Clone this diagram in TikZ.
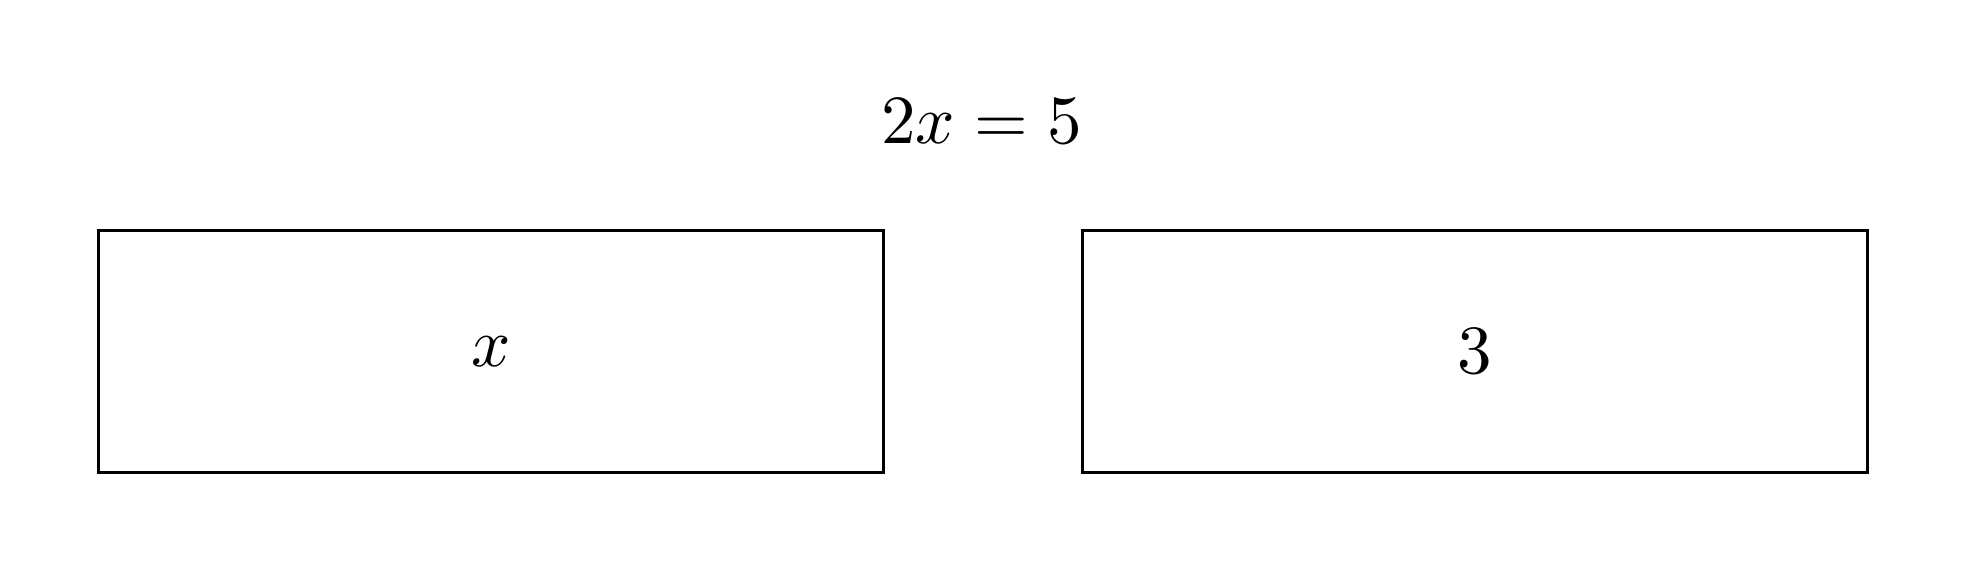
\documentclass[tikz,border=0pt]{standalone}
\usetikzlibrary{positioning}
\tikzset{valbox/.style={draw,minimum width=4cm,minimum height=1.23cm,inner sep=0pt}}
\begin{document}
\begin{tikzpicture}[scale=1.0]
\useasboundingbox (0,0) rectangle (10.03,2.91);
\node (eqn) at (5.0,2.29) {$2x = 5$};
\node[valbox] (lhs) at (2.5,1.12) {$x$};
\node[valbox,right=1cm of lhs] (rhs) {$3$};
\end{tikzpicture}
\end{document}
